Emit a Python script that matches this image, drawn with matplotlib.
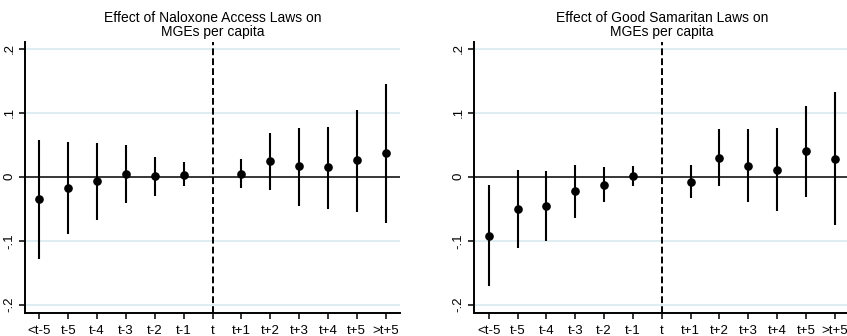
import numpy as np
import matplotlib
matplotlib.use("Agg")
import matplotlib.pyplot as plt

plt.rcParams['font.family'] = ['Liberation Sans', 'DejaVu Sans']

# event-time categories
labels = ["<t-5", "t-5", "t-4", "t-3", "t-2", "t-1", "t",
          "t+1", "t+2", "t+3", "t+4", "t+5", ">t+5"]
# coefficient positions (t itself is the omitted period)
coef_labels = ["<t-5", "t-5", "t-4", "t-3", "t-2", "t-1",
               "t+1", "t+2", "t+3", "t+4", "t+5", ">t+5"]

# Naloxone access laws
nal_est = [-0.035, -0.018, -0.007, 0.004, 0.001, 0.003,
           0.005, 0.025, 0.017, 0.015, 0.026, 0.037]
nal_lo = [-0.128, -0.089, -0.067, -0.041, -0.030, -0.014,
          -0.017, -0.021, -0.045, -0.051, -0.055, -0.072]
nal_hi = [0.058, 0.055, 0.052, 0.050, 0.031, 0.023,
          0.027, 0.069, 0.076, 0.078, 0.105, 0.145]

# Good Samaritan laws
gs_est = [-0.093, -0.050, -0.045, -0.023, -0.013, 0.001,
          -0.008, 0.030, 0.017, 0.011, 0.040, 0.028]
gs_lo = [-0.171, -0.111, -0.100, -0.064, -0.040, -0.015,
         -0.033, -0.014, -0.040, -0.054, -0.032, -0.076]
gs_hi = [-0.013, 0.011, 0.009, 0.019, 0.015, 0.017,
         0.019, 0.074, 0.075, 0.076, 0.110, 0.132]

yticks = [-0.2, -0.1, 0, 0.1, 0.2]
ytick_labels = ["-.2", "-.1", "0", ".1", ".2"]

W, H = 847, 336
fig = plt.figure(figsize=(W / 100, H / 100), dpi=100)

panels = [
    (25, "Effect of Naloxone Access Laws on\nMGEs per capita", nal_est, nal_lo, nal_hi),
    (474.3, "Effect of Good Samaritan Laws on\nMGEs per capita", gs_est, gs_lo, gs_hi),
]

for left, title, est, lo, hi in panels:
    ax = fig.add_axes([left / W, 23.3 / H, 375 / W, (312.7 - 42) / H])
    xpos = [labels.index(c) for c in coef_labels]

    for g in [-0.2, -0.1, 0.1, 0.2]:
        ax.axhline(g, color="#d5e8ee", lw=1.1, zorder=0)
    ax.axhline(0, color="black", lw=1.1, zorder=1)
    ax.axvline(labels.index("t"), color="black", lw=1.4,
               linestyle=(0, (3.5, 1.6)), zorder=1)

    ax.vlines(xpos, lo, hi, color="black", lw=1.5, zorder=2)
    ax.plot(xpos, est, "o", color="black", ms=5.2, zorder=3)

    ax.set_xlim(-0.5, 12.5)
    ax.set_ylim(-0.2125, 0.2105)
    ax.set_xticks(range(len(labels)))
    ax.set_xticklabels(labels, fontsize=9.5)
    ax.set_yticks(yticks)
    ax.set_yticklabels(ytick_labels, fontsize=9.5, rotation=90, va="center")
    ax.tick_params(axis="both", length=4, width=1.1, color="black")
    ax.tick_params(axis="x", pad=4.5)
    ax.tick_params(axis="y", pad=3)

    for s in ["top", "right"]:
        ax.spines[s].set_visible(False)
    for s in ["left", "bottom"]:
        ax.spines[s].set_linewidth(1.4)

    ax.set_title(title, fontsize=10, pad=4, linespacing=1.0)

fig.savefig("out.png", dpi=100)
